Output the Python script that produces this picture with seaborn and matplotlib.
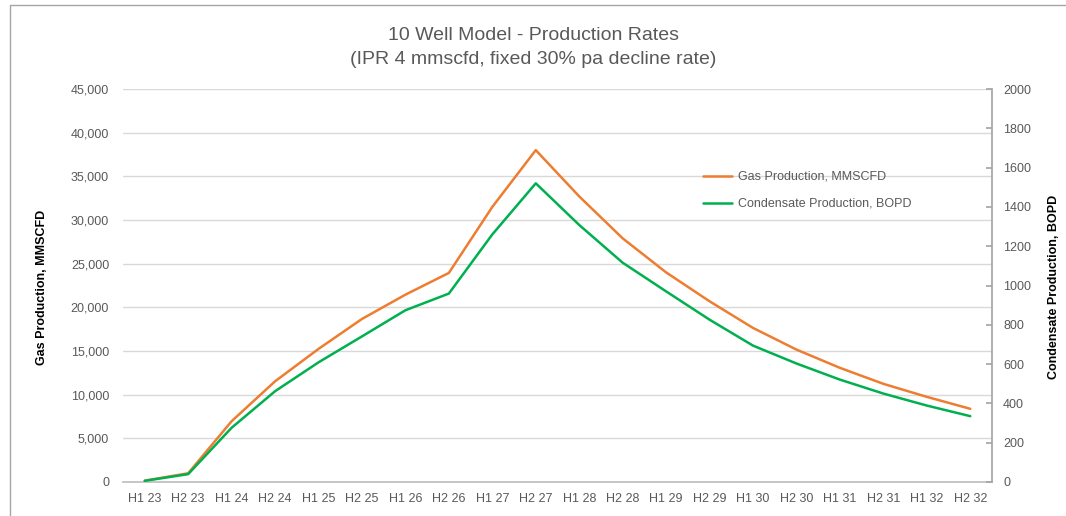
import numpy as np
import pandas as pd
import matplotlib
matplotlib.use("Agg")
import matplotlib.pyplot as plt
from matplotlib.lines import Line2D
from matplotlib.ticker import FuncFormatter, MultipleLocator, FixedLocator
import seaborn as sns

# ── data ─────────────────────────────────────────────────────────────────────
periods = ["H1 23", "H2 23", "H1 24", "H2 24", "H1 25", "H2 25", "H1 26", "H2 26",
           "H1 27", "H2 27", "H1 28", "H2 28", "H1 29", "H2 29", "H1 30", "H2 30",
           "H1 31", "H2 31", "H1 32", "H2 32"]
gas_mmscfd = [150, 1000, 6960, 11530, 15240, 18670, 21450, 23940,
              31500, 38000, 32700, 27900, 24000, 20690, 17640, 15160,
              13070, 11240, 9750, 8380]
cond_bopd = [6, 40, 276, 462, 609, 741, 874, 959,
             1260, 1520, 1308, 1116, 970, 826, 694, 603,
             521, 450, 389, 335]

df = pd.DataFrame({"period": periods, "gas": gas_mmscfd, "cond": cond_bopd})
df["pos"] = np.arange(len(df))

GAS_COL = "#ED7D31"
COND_COL = "#00B050"
GRID_COL = "#D9D9D9"
TXT_COL = "#595959"

sns.set_theme(style="white")
plt.rcParams["font.family"] = ["Liberation Sans", "DejaVu Sans"]

fig = plt.figure(figsize=(10.66, 5.16), dpi=100)
ax = fig.add_axes([123 / 1066, 1 - 482 / 516, 869 / 1066, 393 / 516])
ax2 = ax.twinx()

sns.lineplot(data=df, x="pos", y="gas", ax=ax, color=GAS_COL, lw=1.8)
sns.lineplot(data=df, x="pos", y="cond", ax=ax2, color=COND_COL, lw=1.8)

# primary axis
ax.set_xlim(-0.5, len(df) - 0.5)
ax.set_ylim(0, 45000)
ax.yaxis.set_major_locator(MultipleLocator(5000))
ax.yaxis.set_major_formatter(FuncFormatter(lambda v, p: f"{v:,.0f}"))
ax.grid(axis="y", color=GRID_COL, lw=1)
ax.set_axisbelow(True)
ax.set_xticks(df["pos"])
ax.set_xticklabels(periods)
ax.xaxis.set_minor_locator(FixedLocator(np.arange(-0.5, len(df), 1)))
ax.tick_params(axis="x", which="major", length=0, pad=8, labelsize=9, labelcolor=TXT_COL)
ax.tick_params(axis="x", which="minor", length=4, color="#BFBFBF", direction="out")
ax.tick_params(axis="y", length=0, pad=10, labelsize=9, labelcolor=TXT_COL)
ax.set_xlabel("")
ax.set_ylabel("")
for s in ["top", "left", "right"]:
    ax.spines[s].set_visible(False)
ax.spines["bottom"].set_color("#BFBFBF")

# secondary axis
ax2.set_ylim(0, 2000)
ax2.yaxis.set_major_locator(MultipleLocator(200))
ax2.tick_params(axis="y", length=4, direction="in", color="#A6A6A6", pad=8,
                labelsize=9, labelcolor=TXT_COL)
ax2.set_ylabel("")
for s in ["top", "left", "bottom"]:
    ax2.spines[s].set_visible(False)
ax2.spines["right"].set_color("#A6A6A6")
ax2.grid(False)

# legend
handles = [Line2D([], [], color=GAS_COL, lw=1.8),
           Line2D([], [], color=COND_COL, lw=1.8)]
ax2.legend(handles, ["Gas Production, MMSCFD", "Condensate Production, BOPD"],
           loc="upper left", bbox_to_anchor=(0.655, 0.82), frameon=False,
           fontsize=9, labelcolor=TXT_COL, handlelength=2.3, handletextpad=0.5,
           labelspacing=1.2)

# titles and axis labels
fig.text(0.5, 1 - 35 / 516, "10 Well Model - Production Rates", ha="center",
         va="center", fontsize=14, color=TXT_COL)
fig.text(0.5, 1 - 60 / 516, "(IPR 4 mmscfd, fixed 30% pa decline rate)", ha="center",
         va="center", fontsize=14, color=TXT_COL)
fig.text(42 / 1066, 1 - 287 / 516, "Gas Production, MMSCFD", rotation=90,
         ha="center", va="center", fontsize=9, fontweight="bold", color="black")
fig.text(1054 / 1066, 1 - 287 / 516, "Condensate Production, BOPD", rotation=90,
         ha="center", va="center", fontsize=9, fontweight="bold", color="black")

# chart-area border
fig.add_artist(Line2D([10 / 1066, 1], [1 - 5 / 516, 1 - 5 / 516],
                      transform=fig.transFigure, color="#A6A6A6", lw=1))
fig.add_artist(Line2D([10 / 1066, 10 / 1066], [0, 1 - 5 / 516],
                      transform=fig.transFigure, color="#A6A6A6", lw=1))

fig.savefig("out.png", dpi=100)
plt.close(fig)
